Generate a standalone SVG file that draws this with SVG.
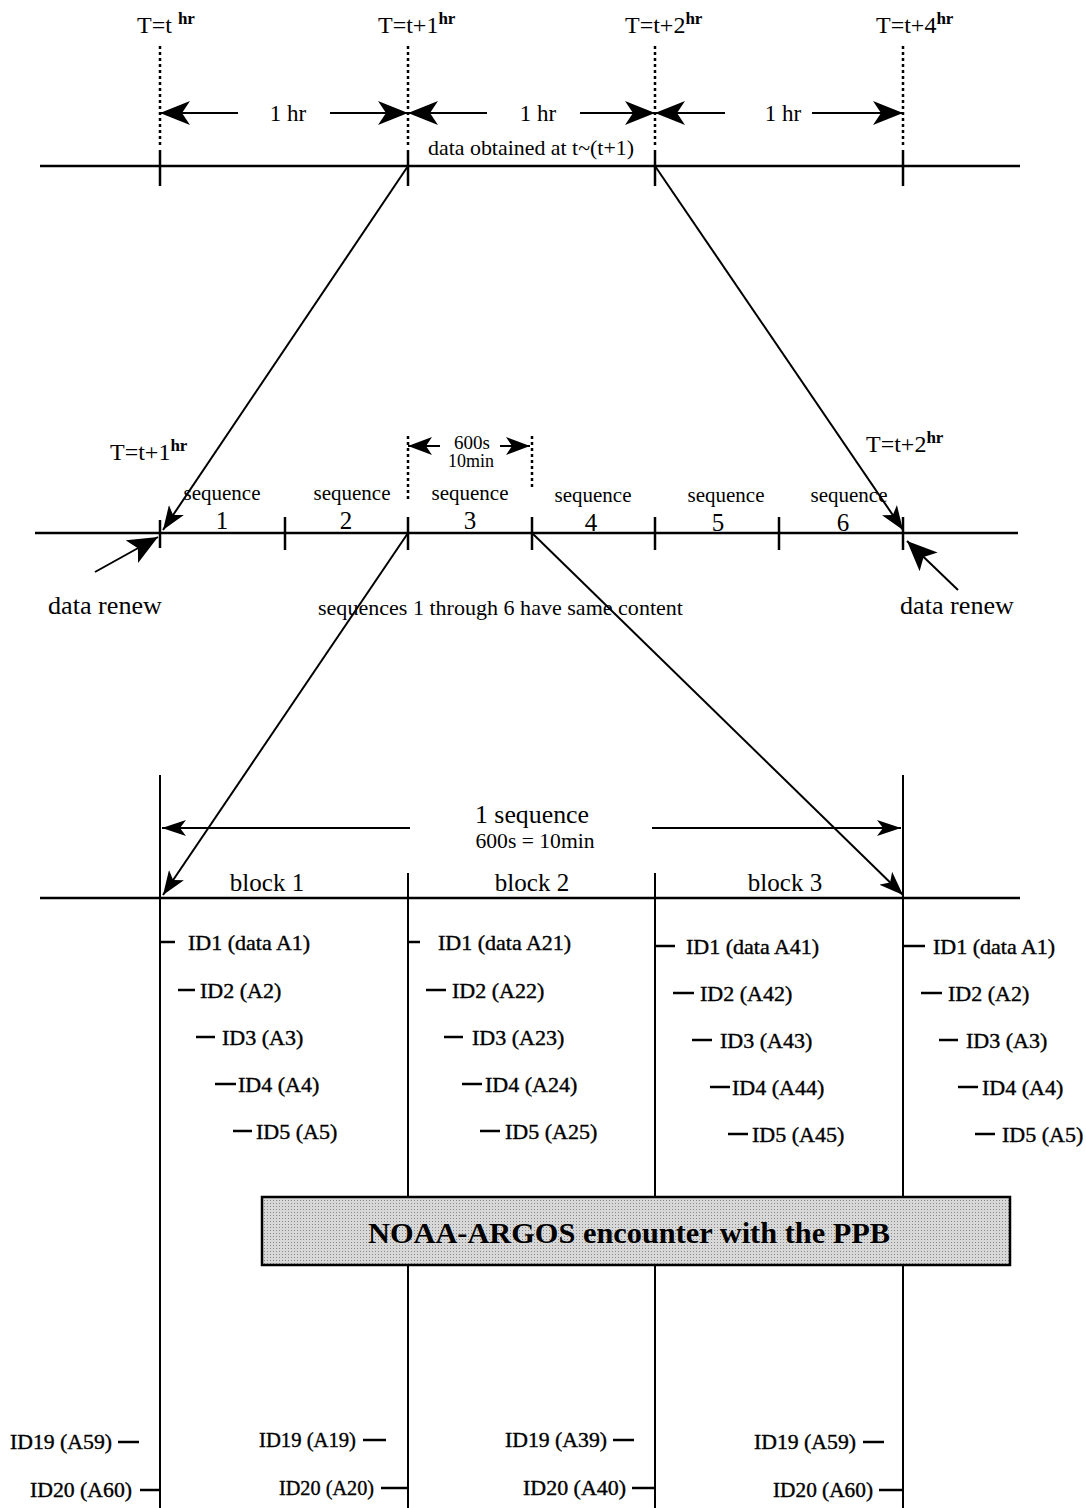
<svg xmlns="http://www.w3.org/2000/svg" width="1086" height="1508" viewBox="0 0 1086 1508">
<style>
text{font-family:"Liberation Serif","Times New Roman",serif;fill:#000}
.t{font-size:24px}
.sup{font-size:17px;font-weight:bold}
.hr{font-size:23px;text-anchor:middle}
.seq{font-size:21px;text-anchor:middle}
.num{font-size:25px;text-anchor:middle}
.id{font-size:22px;stroke:#000;stroke-width:0.4}
.ln{stroke:#000;stroke-width:2;fill:none}
.axis{stroke:#000;stroke-width:2.5;fill:none}
.dot{stroke:#000;stroke-width:2.5;stroke-dasharray:3,3;fill:none}
.tick{stroke:#000;stroke-width:2.5}
.dash{stroke:#000;stroke-width:2.5}
</style>
<defs>
<marker id="big" viewBox="0 0 30 24" refX="30" refY="12" markerWidth="30" markerHeight="24" markerUnits="userSpaceOnUse" orient="auto">
<path d="M0,0 L30,12 L0,24 L8,12 z" fill="#000"/>
</marker>
<marker id="mid" viewBox="0 0 24 18" refX="24" refY="9" markerWidth="24" markerHeight="18" markerUnits="userSpaceOnUse" orient="auto">
<path d="M0,0 L24,9 L0,18 L6,9 z" fill="#000"/>
</marker>
<marker id="fat" viewBox="0 0 30 26" refX="30" refY="13" markerWidth="30" markerHeight="26" markerUnits="userSpaceOnUse" orient="auto">
<path d="M0,0 L30,13 L0,26 L7,13 z" fill="#000"/>
</marker>
<marker id="thin" viewBox="0 0 24 16" refX="24" refY="8" markerWidth="24" markerHeight="16" markerUnits="userSpaceOnUse" orient="auto">
<path d="M0,0 L24,8 L0,16 L6,8 z" fill="#000"/>
</marker>
<pattern id="grain" width="3" height="3" patternUnits="userSpaceOnUse">
<rect width="3" height="3" fill="#d8d8d8"/>
<rect width="1" height="1" fill="#888"/>
</pattern>
</defs>

<g id="top-timeline">
<line class="axis" x1="40" y1="166" x2="1020" y2="166"/>
<line class="dot" x1="160" y1="46" x2="160" y2="148"/>
<line class="dot" x1="408" y1="46" x2="408" y2="148"/>
<line class="dot" x1="655" y1="46" x2="655" y2="148"/>
<line class="dot" x1="903" y1="46" x2="903" y2="148"/>
<line class="tick" x1="160" y1="150" x2="160" y2="186"/>
<line class="tick" x1="408" y1="150" x2="408" y2="186"/>
<line class="tick" x1="655" y1="150" x2="655" y2="186"/>
<line class="tick" x1="903" y1="150" x2="903" y2="186"/>
<text class="t" x="137" y="33">T=t <tspan class="sup" dy="-9">hr</tspan></text>
<text class="t" x="378" y="33">T=t+1<tspan class="sup" dy="-9">hr</tspan></text>
<text class="t" x="625" y="33">T=t+2<tspan class="sup" dy="-9">hr</tspan></text>
<text class="t" x="876" y="33">T=t+4<tspan class="sup" dy="-9">hr</tspan></text>
<text class="hr" x="288" y="121">1 hr</text>
<text class="hr" x="538" y="121">1 hr</text>
<text class="hr" x="783" y="121">1 hr</text>
<text x="428" y="155" font-size="21" textLength="206" lengthAdjust="spacingAndGlyphs">data obtained at t~(t+1)</text>
</g>

<g id="mid-timeline">
<line class="axis" x1="35" y1="533" x2="1018" y2="533"/>
<line class="tick" x1="160" y1="520" x2="160" y2="548"/>
<line class="tick" x1="285" y1="517" x2="285" y2="550"/>
<line class="tick" x1="408" y1="517" x2="408" y2="550"/>
<line class="tick" x1="532" y1="517" x2="532" y2="550"/>
<line class="tick" x1="655" y1="517" x2="655" y2="550"/>
<line class="tick" x1="779" y1="517" x2="779" y2="550"/>
<line class="tick" x1="903" y1="517" x2="903" y2="550"/>
<line class="dot" x1="408" y1="436" x2="408" y2="500"/>
<line class="dot" x1="532" y1="436" x2="532" y2="490"/>
<text class="t" x="110" y="460">T=t+1<tspan class="sup" dy="-9">hr</tspan></text>
<text class="t" x="866" y="452">T=t+2<tspan class="sup" dy="-9">hr</tspan></text>
<text class="seq" x="222" y="500">sequence</text>
<text class="seq" x="352" y="500">sequence</text>
<text class="seq" x="470" y="500">sequence</text>
<text class="seq" x="593" y="502">sequence</text>
<text class="seq" x="726" y="502">sequence</text>
<text class="seq" x="849" y="502">sequence</text>
<text class="num" x="222" y="529">1</text>
<text class="num" x="346" y="529">2</text>
<text class="num" x="470" y="529">3</text>
<text class="num" x="591" y="531">4</text>
<text class="num" x="718" y="531">5</text>
<text class="num" x="843" y="531">6</text>
<text x="472" y="449" text-anchor="middle" font-size="19">600s</text>
<text x="471" y="467" text-anchor="middle" font-size="18">10min</text>
<text x="48" y="614" font-size="26" textLength="114" lengthAdjust="spacingAndGlyphs">data renew</text>
<text x="900" y="614" font-size="26" textLength="114" lengthAdjust="spacingAndGlyphs">data renew</text>
<text x="318" y="615" font-size="21" textLength="365" lengthAdjust="spacingAndGlyphs">sequences 1 through 6 have same content</text>
</g>

<g id="bottom-blocks">
<line class="axis" x1="40" y1="898" x2="1020" y2="898"/>
<line class="ln" x1="160" y1="775" x2="160" y2="1508" stroke-width="2.5"/>
<line class="ln" x1="903" y1="775" x2="903" y2="1508" stroke-width="2.5"/>
<line class="ln" x1="408" y1="873" x2="408" y2="1508"/>
<line class="ln" x1="655" y1="873" x2="655" y2="1508"/>
<text x="532" y="823" text-anchor="middle" font-size="25" textLength="114" lengthAdjust="spacingAndGlyphs">1 sequence</text>
<text x="535" y="848" text-anchor="middle" font-size="20" textLength="119" lengthAdjust="spacingAndGlyphs">600s = 10min</text>
<text x="267" y="891" text-anchor="middle" font-size="25">block 1</text>
<text x="532" y="891" text-anchor="middle" font-size="25">block 2</text>
<text x="785" y="891" text-anchor="middle" font-size="25">block 3</text>
</g>

<g id="col1">
<line class="dash" x1="160" y1="942" x2="175" y2="942"/><text class="id" x="188" y="950">ID1 (data A1)</text>
<line class="dash" x1="178" y1="990" x2="195" y2="990"/><text class="id" x="200" y="998">ID2 (A2)</text>
<line class="dash" x1="196" y1="1037" x2="215" y2="1037"/><text class="id" x="222" y="1045">ID3 (A3)</text>
<line class="dash" x1="215" y1="1084" x2="236" y2="1084"/><text class="id" x="238" y="1092">ID4 (A4)</text>
<line class="dash" x1="233" y1="1131" x2="252" y2="1131"/><text class="id" x="256" y="1139">ID5 (A5)</text>
</g>
<g id="col2">
<line class="dash" x1="408" y1="942" x2="420" y2="942"/><text class="id" x="438" y="950">ID1 (data A21)</text>
<line class="dash" x1="426" y1="990" x2="446" y2="990"/><text class="id" x="452" y="998">ID2 (A22)</text>
<line class="dash" x1="444" y1="1037" x2="463" y2="1037"/><text class="id" x="472" y="1045">ID3 (A23)</text>
<line class="dash" x1="462" y1="1084" x2="482" y2="1084"/><text class="id" x="485" y="1092">ID4 (A24)</text>
<line class="dash" x1="480" y1="1131" x2="500" y2="1131"/><text class="id" x="505" y="1139">ID5 (A25)</text>
</g>
<g id="col3">
<line class="dash" x1="655" y1="946" x2="675" y2="946"/><text class="id" x="686" y="954">ID1 (data A41)</text>
<line class="dash" x1="673" y1="993" x2="694" y2="993"/><text class="id" x="700" y="1001">ID2 (A42)</text>
<line class="dash" x1="692" y1="1040" x2="712" y2="1040"/><text class="id" x="720" y="1048">ID3 (A43)</text>
<line class="dash" x1="710" y1="1087" x2="730" y2="1087"/><text class="id" x="732" y="1095">ID4 (A44)</text>
<line class="dash" x1="728" y1="1134" x2="748" y2="1134"/><text class="id" x="752" y="1142">ID5 (A45)</text>
</g>
<g id="col4">
<line class="dash" x1="903" y1="946" x2="925" y2="946"/><text class="id" x="933" y="954">ID1 (data A1)</text>
<line class="dash" x1="921" y1="993" x2="942" y2="993"/><text class="id" x="948" y="1001">ID2 (A2)</text>
<line class="dash" x1="939" y1="1040" x2="958" y2="1040"/><text class="id" x="966" y="1048">ID3 (A3)</text>
<line class="dash" x1="958" y1="1087" x2="978" y2="1087"/><text class="id" x="982" y="1095">ID4 (A4)</text>
<line class="dash" x1="975" y1="1134" x2="995" y2="1134"/><text class="id" x="1002" y="1142">ID5 (A5)</text>
</g>

<g id="encounter-box">
<rect x="262" y="1197" width="748" height="68" fill="url(#grain)" stroke="#000" stroke-width="2.5"/>
<text x="629" y="1243" text-anchor="middle" font-size="30" font-weight="bold" textLength="522" lengthAdjust="spacingAndGlyphs">NOAA-ARGOS encounter with the PPB</text>
</g>

<g id="bottom-ids">
<text class="id" x="10" y="1449" textLength="102" lengthAdjust="spacingAndGlyphs">ID19 (A59)</text><line class="dash" x1="118" y1="1442" x2="139" y2="1442"/>
<text class="id" x="30" y="1497" textLength="102" lengthAdjust="spacingAndGlyphs">ID20 (A60)</text><line class="dash" x1="140" y1="1490" x2="160" y2="1490"/>
<text class="id" x="259" y="1447" textLength="97" lengthAdjust="spacingAndGlyphs">ID19 (A19)</text><line class="dash" x1="363" y1="1440" x2="386" y2="1440"/>
<text class="id" x="279" y="1495" textLength="95" lengthAdjust="spacingAndGlyphs">ID20 (A20)</text><line class="dash" x1="381" y1="1488" x2="408" y2="1488"/>
<text class="id" x="505" y="1447" textLength="102" lengthAdjust="spacingAndGlyphs">ID19 (A39)</text><line class="dash" x1="613" y1="1440" x2="634" y2="1440"/>
<text class="id" x="523" y="1495" textLength="103" lengthAdjust="spacingAndGlyphs">ID20 (A40)</text><line class="dash" x1="632" y1="1488" x2="655" y2="1488"/>
<text class="id" x="754" y="1449" textLength="102" lengthAdjust="spacingAndGlyphs">ID19 (A59)</text><line class="dash" x1="863" y1="1442" x2="884" y2="1442"/>
<text class="id" x="773" y="1497" textLength="100" lengthAdjust="spacingAndGlyphs">ID20 (A60)</text><line class="dash" x1="879" y1="1490" x2="903" y2="1490"/>
</g>

<g id="connectors">
<line class="ln" x1="238" y1="113" x2="160" y2="113" marker-end="url(#big)"/>
<line class="ln" x1="330" y1="113" x2="408" y2="113" marker-end="url(#big)"/>
<line class="ln" x1="487" y1="113" x2="408" y2="113" marker-end="url(#big)"/>
<line class="ln" x1="580" y1="113" x2="655" y2="113" marker-end="url(#big)"/>
<line class="ln" x1="725" y1="113" x2="655" y2="113" marker-end="url(#big)"/>
<line class="ln" x1="812" y1="113" x2="903" y2="113" marker-end="url(#big)"/>
<line class="ln" x1="408" y1="166" x2="163" y2="530" marker-end="url(#mid)"/>
<line class="ln" x1="655" y1="166" x2="903" y2="530" marker-end="url(#mid)"/>
<line class="ln" x1="440" y1="446" x2="408" y2="446" marker-end="url(#mid)"/>
<line class="ln" x1="500" y1="446" x2="530" y2="446" marker-end="url(#mid)"/>
<line class="ln" x1="95" y1="572" x2="158" y2="537" stroke-width="4" marker-end="url(#fat)"/>
<line class="ln" x1="958" y1="590" x2="907" y2="541" stroke-width="4" marker-end="url(#fat)"/>
<line class="ln" x1="408" y1="533" x2="163" y2="895" stroke-width="2.5" marker-end="url(#mid)"/>
<line class="ln" x1="532" y1="533" x2="903" y2="895" stroke-width="2.5" marker-end="url(#mid)"/>
<line class="ln" x1="410" y1="828" x2="162" y2="828" marker-end="url(#thin)"/>
<line class="ln" x1="652" y1="828" x2="901" y2="828" marker-end="url(#thin)"/>
</g>
</svg>
